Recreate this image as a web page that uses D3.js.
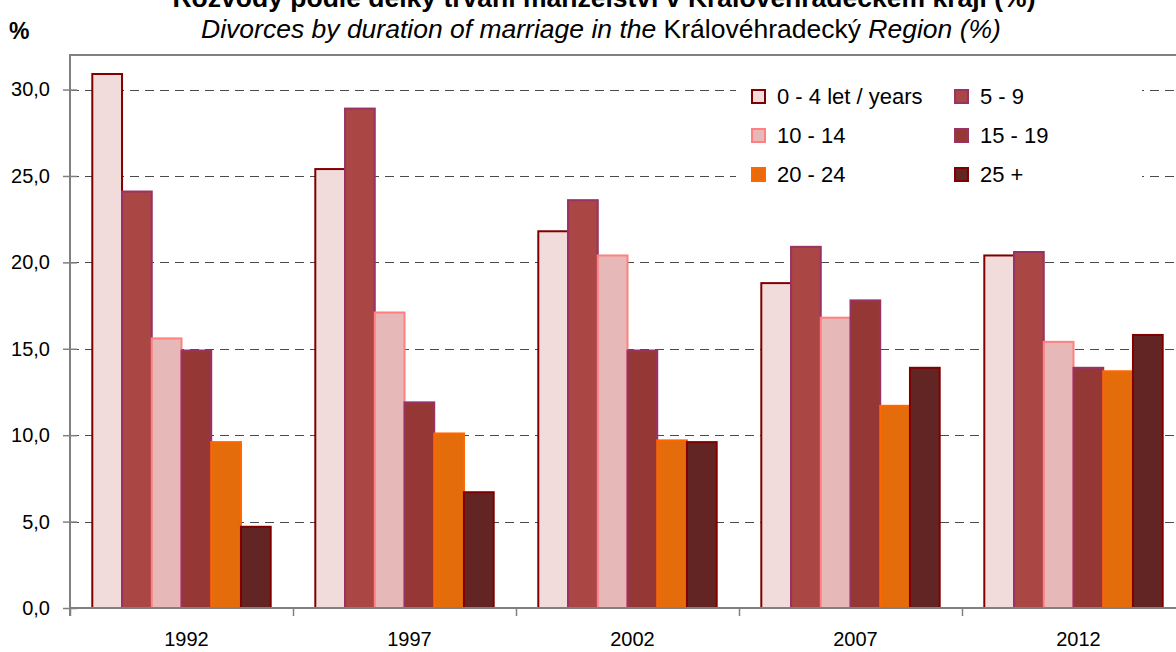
<!DOCTYPE html>
<html>
<head>
<meta charset="utf-8">
<script src="https://cdn.jsdelivr.net/npm/d3@7"></script>
<style>
  body { margin: 0; background: #fff; }
  svg { display: block; font-family: "Liberation Sans", Arial, sans-serif; }
</style>
</head>
<body>
<script>
// data
const years = ["1992", "1997", "2002", "2007", "2012"];
const seriesNames = ["0 - 4 let / years", "5 - 9", "10 - 14", "15 - 19", "20 - 24", "25 +"];
const v0_4 = [30.9, 25.4, 21.8, 18.8, 20.4];
const v5_9 = [24.1, 28.9, 23.6, 20.9, 20.6];
const v10_14 = [15.6, 17.1, 20.4, 16.8, 15.4];
const v15_19 = [14.9, 11.9, 14.9, 17.8, 13.9];
const v20_24 = [9.6, 10.1, 9.7, 11.7, 13.7];
const v25 = [4.7, 6.7, 9.6, 13.9, 15.8];
const yTicks = [0, 5, 10, 15, 20, 25, 30];

const values = [v0_4, v5_9, v10_14, v15_19, v20_24, v25];
const fills = ["#f2dcdb", "#aa4644", "#e6b9b8", "#953735", "#e46c0a", "#632523"];
const strokes = ["#800000", "#993366", "#ff8080", "#993366", "#ff6600", "#800000"];

const w = 1176, h = 652;
const plotLeft = 70, plotTop = 55, plotBottom = 608, plotRight = 1185;

const svg = d3.select("body").append("svg")
  .attr("width", w)
  .attr("height", h);

const x = d3.scaleBand()
  .domain(years)
  .range([plotLeft, plotRight])
  .paddingInner(0.2)
  .paddingOuter(0.1);

const xs = d3.scaleBand()
  .domain(d3.range(seriesNames.length))
  .range([0, x.bandwidth()]);

const y = d3.scaleLinear()
  .domain([0, 32])
  .range([plotBottom, plotTop]);

// grid lines
svg.append("g")
  .selectAll("line")
  .data(yTicks.filter(t => t > 0))
  .enter()
  .append("line")
  .attr("x1", plotLeft)
  .attr("x2", w)
  .attr("y1", d => Math.round(y(d)) + 0.5)
  .attr("y2", d => Math.round(y(d)) + 0.5)
  .attr("stroke", "#4a4a4a")
  .attr("stroke-dasharray", "9,6");

// plot frame top
svg.append("line")
  .attr("x1", plotLeft).attr("x2", w)
  .attr("y1", plotTop).attr("y2", plotTop)
  .attr("stroke", "#808080")
  .attr("stroke-width", 2);

// bars
values.forEach((vals, s) => {
  svg.append("g")
    .selectAll("rect")
    .data(vals)
    .enter()
    .append("rect")
    .attr("x", (d, i) => x(years[i]) + xs(s))
    .attr("y", d => y(d))
    .attr("width", xs.bandwidth())
    .attr("height", d => y(0) - y(d))
    .attr("fill", fills[s])
    .attr("stroke", strokes[s])
    .attr("stroke-width", 2);
});

// y axis
const yAxis = d3.axisLeft(y)
  .tickValues(yTicks)
  .tickSize(7)
  .tickPadding(13)
  .tickFormat(d => d3.format(".1f")(d).replace(".", ","));

const gy = svg.append("g")
  .attr("transform", `translate(${plotLeft},0)`)
  .call(yAxis);
gy.select(".domain").remove();
gy.selectAll(".tick line")
  .attr("x1", -7).attr("x2", 7)
  .attr("stroke", "#808080").attr("stroke-width", 1.5);
gy.selectAll(".tick text")
  .attr("font-size", "20px")
  .attr("fill", "#000");

svg.append("line")
  .attr("x1", plotLeft).attr("x2", plotLeft)
  .attr("y1", plotTop - 1).attr("y2", plotBottom + 8)
  .attr("stroke", "#808080")
  .attr("stroke-width", 2);

// x axis
const xAxis = d3.axisBottom(x).tickSize(0).tickPadding(24);
const gx = svg.append("g")
  .attr("transform", `translate(0,${plotBottom})`)
  .call(xAxis);
gx.select(".domain").remove();
gx.selectAll(".tick text")
  .attr("font-size", "20px")
  .attr("fill", "#000")
  .attr("dx", 5);

svg.append("line")
  .attr("x1", plotLeft).attr("x2", w)
  .attr("y1", plotBottom).attr("y2", plotBottom)
  .attr("stroke", "#808080")
  .attr("stroke-width", 2);

svg.append("g")
  .selectAll("line")
  .data(years)
  .enter()
  .append("line")
  .attr("x1", d => Math.round(x(d) - x.step() * x.paddingInner() / 2) + 0.5)
  .attr("x2", d => Math.round(x(d) - x.step() * x.paddingInner() / 2) + 0.5)
  .attr("y1", plotBottom)
  .attr("y2", plotBottom + 8)
  .attr("stroke", "#808080")
  .attr("stroke-width", 1.5);

// legend
const legend = svg.append("g");
legend.append("rect")
  .attr("x", 736).attr("y", 78)
  .attr("width", 406).attr("height", 116)
  .attr("fill", "#fff");

const items = legend.selectAll("g.item")
  .data(seriesNames)
  .enter()
  .append("g")
  .attr("class", "item")
  .attr("transform", (d, i) => `translate(${i % 2 ? 954 : 751},${96 + Math.floor(i / 2) * 39})`);

items.append("rect")
  .attr("x", 1).attr("y", -6)
  .attr("width", 13).attr("height", 13)
  .attr("fill", (d, i) => fills[i])
  .attr("stroke", (d, i) => strokes[i])
  .attr("stroke-width", 2);

items.append("text")
  .attr("x", 26)
  .attr("dy", "0.36em")
  .attr("font-size", "22px")
  .text(d => d);

// titles (first line is cut off by the top edge, as in the original)
svg.append("text")
  .attr("x", 604).attr("y", 7)
  .attr("text-anchor", "middle")
  .attr("font-size", "26.5px")
  .attr("font-weight", "bold")
  .text("Rozvody podle délky trvání manželství v Královéhradeckém kraji  (%)");

const t2 = svg.append("text")
  .attr("x", 601).attr("y", 38)
  .attr("text-anchor", "middle")
  .attr("font-size", "26.5px");
t2.append("tspan").attr("font-style", "italic").text("Divorces by duration of marriage in the ");
t2.append("tspan").text("Královéhradecký ");
t2.append("tspan").attr("font-style", "italic").text("Region (%)");

svg.append("text")
  .attr("x", 9).attr("y", 39)
  .attr("font-size", "23px")
  .attr("font-weight", "bold")
  .text("%");
</script>
</body>
</html>
